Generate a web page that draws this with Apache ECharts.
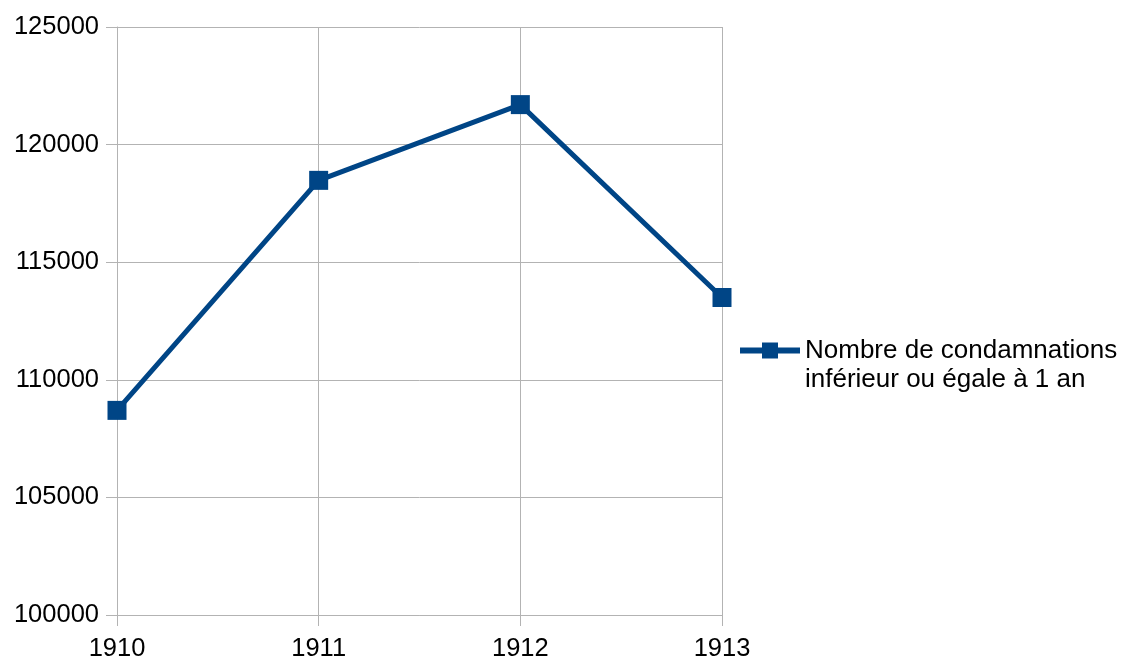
<!DOCTYPE html>
<html>
<head>
<meta charset="utf-8">
<script src="https://cdn.jsdelivr.net/npm/echarts@6/dist/echarts.min.js"></script>
<style>
  html, body { margin: 0; padding: 0; background: #fff; }
  #chart { width: 1128px; height: 662px; }
</style>
</head>
<body>
<div id="chart"></div>
<script>
const years = ["1910", "1911", "1912", "1913"];
const seriesName = "Nombre de condamnations\ninférieur ou égale à 1 an";
const condamnations = [108700, 118480, 121700, 113500];

const chart = echarts.init(document.getElementById("chart"));
const font = "Liberation Sans";

chart.setOption({
  animation: false,
  color: ["#004586"],
  grid: { left: 117, right: 406, top: 27, bottom: 47 },
  legend: {
    orient: "vertical",
    left: 737,
    top: 307,
    padding: 0,
    itemWidth: 60,
    itemHeight: 20,
    data: [seriesName],
    // blank first line so the icon sits beside the first text line
    formatter: (name) => "\n" + name,
    lineStyle: { width: 6 },
    textStyle: {
      fontFamily: font,
      fontSize: 26,
      color: "#000",
      lineHeight: 29,
    },
  },
  xAxis: {
    type: "category",
    boundaryGap: false,
    data: years,
    axisLine: { lineStyle: { color: "#b3b3b3", width: 1 } },
    axisTick: { show: true, length: 11, lineStyle: { color: "#b3b3b3" } },
    axisLabel: { color: "#000", fontFamily: font, fontSize: 25.5, margin: 21 },
    splitLine: { show: true, lineStyle: { color: "#b3b3b3", width: 1 } },
  },
  yAxis: {
    type: "value",
    min: 100000,
    max: 125000,
    interval: 5000,
    axisLine: { show: true, lineStyle: { color: "#b3b3b3", width: 1 } },
    axisTick: { show: true, length: 11, lineStyle: { color: "#b3b3b3" } },
    axisLabel: {
      color: "#000",
      fontFamily: font,
      fontSize: 25.5,
      margin: 18,
      padding: [4, 0, 0, 0],
      formatter: (v) => String(v),
    },
    splitLine: { show: true, lineStyle: { color: "#b3b3b3", width: 1 } },
  },
  series: [
    {
      name: seriesName,
      type: "line",
      data: condamnations,
      symbol: "rect",
      symbolSize: 19,
      showAllSymbol: true,
      lineStyle: { width: 5, color: "#004586" },
      itemStyle: { color: "#004586" },
    },
  ],
});
</script>
</body>
</html>
